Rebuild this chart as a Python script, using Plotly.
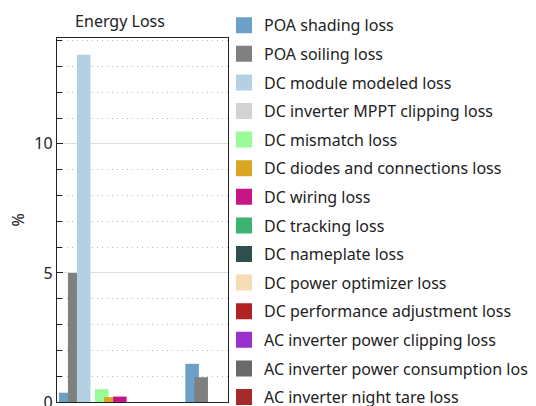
import plotly.graph_objects as go

# ---- data ----
loss_names = [
    "POA shading loss",
    "POA soiling loss",
    "DC module modeled loss",
    "DC inverter MPPT clipping loss",
    "DC mismatch loss",
    "DC diodes and connections loss",
    "DC wiring loss",
    "DC tracking loss",
    "DC nameplate loss",
    "DC power optimizer loss",
    "DC performance adjustment loss",
    "AC inverter power clipping loss",
    "AC inverter power consumption loss",
    "AC inverter night tare loss",
    "AC inverter efficiency loss",
    "AC wiring loss",
    "AC transformer loss",
    "AC performance adjustment loss",
]
loss_values = [0.36, 5.0, 13.45, 0.0, 0.5, 0.19, 0.21, 0.0, 0.0, 0.0, 0.0, 0.0, 0.0, 0.0,
               1.48, 0.96, 0.0, 0.0]
loss_colors = [
    "#6ca0c6", "#808080", "#b3d1e3", "#d3d3d3", "#98fb98", "#daa520", "#c71585",
    "#3cb371", "#2f4f4f", "#f5deb3", "#b22222", "#9932cc", "#696969", "#a52a2a",
    "#6ca0c6", "#808080", "#b3d1e3", "#d3d3d3",
]
visible_legend_count = 14
title_text = "Energy Loss"
y_title = "%"

FONT = "Noto Sans"
DARK = "#222222"
W, H = 536, 900

fig = go.Figure()
for i, (nm, val, col) in enumerate(zip(loss_names, loss_values, loss_colors)):
    fig.add_trace(go.Bar(
        x=[i], y=[val], name=nm, width=1.5,
        marker=dict(color=col, line=dict(width=0)),
        showlegend=False,
    ))

# legend entries (square swatches)
for i in range(visible_legend_count):
    fig.add_trace(go.Scatter(
        x=[None], y=[None], mode="markers", name=loss_names[i],
        marker=dict(symbol="square", size=16, color=loss_colors[i], line=dict(width=0)),
        legendgroup=loss_names[i], hoverinfo="skip",
    ))

fig.update_layout(
    width=W, height=H,
    margin=dict(l=49, r=W - 220, t=30, b=H - 394, autoexpand=False),
    paper_bgcolor="white", plot_bgcolor="white",
    font=dict(family=FONT, size=16, color=DARK),
    barmode="overlay",
    title=dict(text=title_text, x=112 / W, xref="container", xanchor="center",
               y=1 - 13 / H, yref="container", yanchor="middle",
               font=dict(family=FONT, size=16, color=DARK)),
    legend=dict(x=216 / W, xref="container", y=1 + 29.7 / 364, yref="paper",
                xanchor="left", yanchor="top",
                font=dict(family=FONT, size=16, color=DARK),
                bgcolor="rgba(0,0,0,0)", borderwidth=0,
                traceorder="grouped", tracegroupgap=4.8),
    xaxis=dict(range=[-0.96, 17.97], showticklabels=False, ticks="", showgrid=False,
               zeroline=False, showline=True, mirror=True, linecolor=DARK, linewidth=1.3),
    yaxis=dict(range=[0, 14.1], tick0=0, dtick=5, ticks="inside", ticklen=6,
               tickcolor=DARK, tickwidth=1.3,
               showline=True, mirror=True, linecolor=DARK, linewidth=1.3,
               showgrid=True, gridcolor="#dddddd", gridwidth=1, zeroline=False,
               tickfont=dict(family=FONT, size=16, color=DARK),
               minor=dict(dtick=1, ticks="inside", ticklen=5, tickcolor=DARK,
                          showgrid=True, griddash="1px,4px", gridcolor="#b8b8b8", gridwidth=1)),
    annotations=[dict(text=y_title, xref="paper", yref="paper", x=-(49 - 9.5) / 171, y=0.5,
                      xanchor="center", yanchor="middle", textangle=-90, showarrow=False,
                      font=dict(family=FONT, size=16, color=DARK))],
)

fig.write_html(
    "out.html",
    post_script="document.documentElement.style.overflow='hidden';document.body.style.overflow='hidden';",
)
